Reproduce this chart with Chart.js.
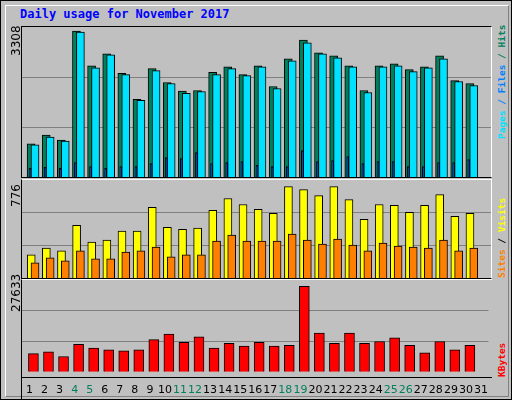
<!DOCTYPE html>
<html><head><meta charset="utf-8">
<script src="https://cdn.jsdelivr.net/npm/chart.js@4"></script>
<style>
body{margin:0;background:#fff}
#outer{position:absolute;left:0;top:0;width:510px;height:398px;background:#C0C0C0;border:1px solid #000}
#in{position:absolute;left:4px;top:4px;width:502px;height:390px;border-top:1px solid #fff;border-left:1px solid #fff;border-right:1px solid #808080;border-bottom:1px solid #808080}
.box{position:absolute;left:20px;width:471px}
.t{position:absolute;font:bold 12px "DejaVu Sans Mono",monospace;white-space:nowrap}
.r{transform:rotate(-90deg);transform-origin:left top;font-size:9.5px}
.y{position:absolute;font:12px "DejaVu Sans",sans-serif;transform:rotate(-90deg);transform-origin:left top;left:8px}
</style></head><body>
<div id="outer"><div id="in"></div>
<div class="t" style="left:19px;top:6px;color:#0000FF">Daily usage for November 2017</div>
<div class="box" style="top:25px;height:152px;border:1px solid #000;border-right-color:#fff;box-sizing:border-box"><canvas id="c1"></canvas></div>
<div class="box" style="top:178px;height:100px;border:1px solid #000;border-top-color:#fff;border-right-color:#fff;box-sizing:border-box"><canvas id="c2"></canvas></div>
<div class="box" style="top:278px;height:122px;border-top:1px solid #fff;border-left:1px solid #000;box-sizing:border-box"><canvas id="c3"></canvas></div>
<div style="position:absolute;left:20px;top:376px;width:471px;height:1px;background:#000"></div>
<div class="y" style="top:55px">3308</div>
<div class="y" style="top:206px">776</div>
<div class="y" style="top:311px">27633</div>
<div class="t r" style="left:495px;top:138px"><span style="color:#00E0FF">Pages</span><span style="color:#0080FF"> / Files</span><span style="color:#00805C"> / Hits</span></div>
<div class="t r" style="left:495px;top:277px"><span style="color:#FF8000">Sites</span><span style="color:#000"> / </span><span style="color:#FFFF00">Visits</span></div>
<div class="t r" style="left:495px;top:376px;color:#FF0000">KBytes</div>
</div>
<script>
const days=[1,2,3,4,5,6,7,8,9,10,11,12,13,14,15,16,17,18,19,20,21,22,23,24,25,26,27,28,29,30];
const weekend=[4,5,11,12,18,19,25,26];
const hits=[750,951,839,3308,2522,2792,2350,1759,2455,2141,1946,1961,2372,2500,2320,2522,2051,2679,3106,2814,2747,2522,1961,2522,2567,2433,2500,2747,2186,2118];
const files=[728,906,817,3286,2477,2770,2320,1737,2410,2119,1894,1939,2320,2455,2298,2500,2006,2634,3039,2792,2702,2500,1916,2500,2522,2388,2477,2680,2164,2073];
const pages=[194,217,194,329,239,194,239,239,307,441,419,553,307,329,352,262,239,239,598,352,374,464,307,352,352,239,239,329,329,396];
const visits=[196,255,230,448,305,322,398,398,599,431,414,423,574,675,624,582,549,776,750,700,776,666,498,624,616,557,616,708,524,549];
const sites=[129,171,146,230,162,162,221,230,263,179,196,196,314,364,314,314,314,372,322,288,330,280,230,297,272,263,255,322,230,255];
const kbytes=[5849,6454,4942,8875,7665,7060,6757,7060,10388,12203,9480,11295,7665,9177,8270,9480,8270,8572,27633,12505,9177,12505,9177,9783,10993,8572,6152,9783,7060,8572];
Chart.defaults.animation=false;
function pts(vals,off){return vals.map((v,i)=>({x:days[i]+off,y:v}));}
function ds(vals,off,color,w,ord){return {data:pts(vals,off),backgroundColor:color,borderColor:'#000',borderWidth:1,borderSkipped:'bottom',barThickness:w,grouped:false,order:ord};}
function mk(id,datasets,max,showX){
 new Chart(document.getElementById(id),{type:'bar',data:{datasets},
 options:{responsive:true,maintainAspectRatio:false,layout:{padding:0},
  plugins:{legend:{display:false},tooltip:{enabled:false}},
  scales:{
   x:{type:'linear',offset:false,min:0.5,max:31.5,display:showX,grid:{display:false,offset:false},border:{display:false},
      afterBuildTicks:s=>{s.ticks=[];for(let d=1;d<=31;d++)s.ticks.push({value:d});},
      ticks:{autoSkip:false,maxRotation:0,padding:4,font:{family:'DejaVu Sans',size:11},
        color:c=>weekend.includes(c.tick&&c.tick.value)?'#00805C':'#000',callback:v=>String(v)}},
   y:{min:0,max:max,afterFit:s=>{s.width=0},ticks:{display:false,stepSize:max/3},
      grid:{color:'#808080',drawTicks:false,lineWidth:c=>(c.tick.value>0&&c.tick.value<max)?1:0},border:{display:false}}
  }}});
}
mk('c1',[ds(hits,0.1,'#00805C',8,3),ds(files,0.36,'#00E0FF',8,2),ds(pages,0.03,'#0040FF',2,1)],3400,false);
mk('c2',[ds(visits,0.11,'#FFFF00',8,2),ds(sites,0.36,'#FF8000',8,1)],832,false);
mk('c3',[ds(kbytes,0.26,'#FF0000',10,1)],29650,true);
</script></body></html>
